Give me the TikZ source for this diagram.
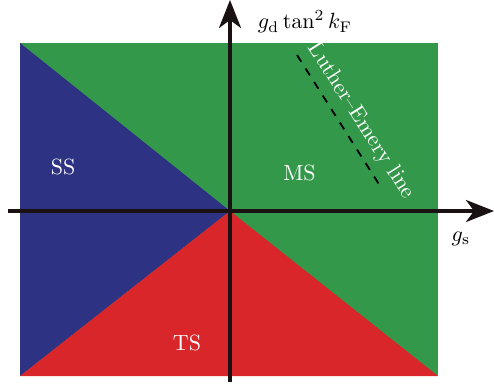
\documentclass[tikz,border=0pt]{standalone}
\usetikzlibrary{arrows.meta}
\definecolor{msgreen}{RGB}{52,152,74}
\definecolor{ssblue}{RGB}{45,50,130}
\definecolor{tsred}{RGB}{216,38,42}
\definecolor{axisblack}{RGB}{26,18,18}
% text is set at 10pt and enlarged as a whole
\newcommand{\enlarged}[1]{\scalebox{2.2}{#1}}
\tikzset{
  phase/.style={text=white,inner sep=0pt},
  axis/.style={draw=axisblack,line width=3.3pt,-{Stealth[length=28pt,width=22pt,inset=8pt]}},
  axislabel/.style={text=black,inner sep=0pt},
  lemery/.style={draw=black,line width=1.8pt,dash pattern=on 8pt off 8pt}
}
\begin{document}
\begin{tikzpicture}[x=1pt,y=-1pt]
  \useasboundingbox (0,0) rectangle (494,383);
  % corners of the phase plane and the origin
  \coordinate (tl) at (20,43);
  \coordinate (tr) at (438,43);
  \coordinate (br) at (438,376);
  \coordinate (bl) at (20,376);
  \coordinate (o) at (230,211);
  % phase regions
  \fill[msgreen] (tl) rectangle (br);
  \fill[ssblue] (tl) -- (o) -- (bl) -- cycle;
  \fill[tsred] (bl) -- (o) -- (br) -- cycle;
  % Luther-Emery line
  \coordinate (le1) at (297,55);
  \coordinate (le2) at (382,189);
  \draw[lemery] (le1) -- (le2);
  % axes
  \coordinate (xs) at (8,211);
  \coordinate (xe) at (494,211);
  \coordinate (ys) at (230,382);
  \coordinate (ye) at (230,0);
  \draw[axis] (xs) -- (xe);
  \draw[axis] (ys) -- (ye);
  % labels
  \node[phase] (ss) at (63,167) {\enlarged{SS}};
  \node[phase] (ms) at (299.5,173) {\enlarged{MS}};
  \node[phase] (ts) at (187,343) {\enlarged{TS}};
  \node[axislabel] (ylab) at (305,22) {\enlarged{$g_{\mathrm{d}}\tan^2 k_{\mathrm{F}}$}};
  \node[axislabel] (xlab) at (461,239) {\enlarged{$g_{\mathrm{s}}$}};
  \node[phase,rotate=-57.4] (letext) at (361,121) {\enlarged{Luther--Emery line}};
\end{tikzpicture}
\end{document}
